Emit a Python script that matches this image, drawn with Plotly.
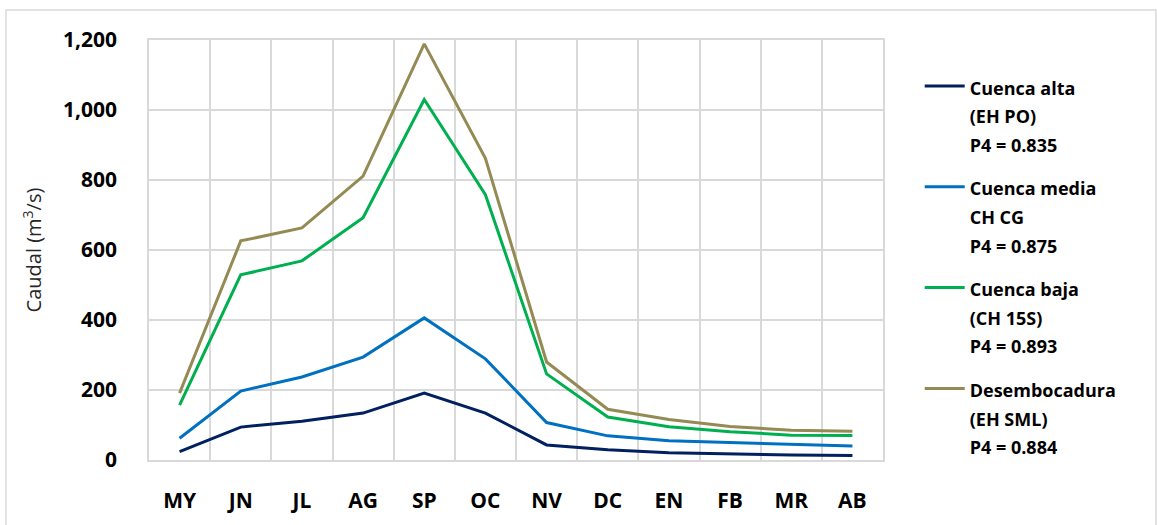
import plotly.graph_objects as go

# meses del año hidrológico (mayo - abril)
meses = ["MY", "JN", "JL", "AG", "SP", "OC", "NV", "DC", "EN", "FB", "MR", "AB"]

cuenca_alta = [24, 94, 111, 134, 191, 134, 43, 29, 21, 17, 14, 13]
cuenca_media = [62, 197, 237, 294, 406, 289, 107, 69, 55, 50, 43, 40]
cuenca_baja = [157, 529, 569, 692, 1030, 758, 246, 123, 95, 81, 71, 70]
desembocadura = [191, 626, 663, 811, 1189, 862, 280, 145, 116, 96, 85, 82]

nombres = [
    "Cuenca alta<br>(EH PO)<br>P4 = 0.835",
    "Cuenca media<br>CH CG<br>P4 = 0.875",
    "Cuenca baja<br>(CH 15S)<br>P4 = 0.893",
    "Desembocadura<br>(EH SML)<br>P4 = 0.884",
]
colores = ["#002060", "#0070c0", "#00b050", "#948a54"]
series = [cuenca_alta, cuenca_media, cuenca_baja, desembocadura]

x = list(range(len(meses)))

fig = go.Figure()
for i, (nombre, valores, color) in enumerate(zip(nombres, series, colores)):
    # span con fuente menor: el interlineado lo marca la fuente de la leyenda
    etiqueta = "<br>".join(
        f"<span style='font-size:18px'>{t}</span>" for t in nombre.split("<br>")
    )
    fig.add_trace(go.Scatter(
        x=x, y=valores, name=etiqueta, mode="lines",
        legendgroup=f"g{i}",
        line=dict(color=color, width=3),
    ))

grid = "#d9d9d9"
fig.update_layout(
    width=1157, height=525,
    margin=dict(l=149, r=274, t=40, b=65),
    paper_bgcolor="white", plot_bgcolor="white",
    font=dict(family="Open Sans", color="black"),
    showlegend=True,
    legend=dict(
        x=1.05, y=0.94, xanchor="left", yanchor="top",
        font=dict(size=22, family="Open Sans", weight="bold"),
        tracegroupgap=12, valign="top", itemwidth=40,
    ),
    xaxis=dict(
        range=[-0.5, 11.5],
        tickvals=x, ticktext=meses,
        tickfont=dict(size=21, weight="bold"),
        showgrid=False, zeroline=False,
        showline=True, linecolor=grid, linewidth=1.5, mirror=True,
        ticks="", ticklabelstandoff=21,
        minor=dict(tickvals=[i - 0.5 for i in range(13)], showgrid=True,
                   gridcolor=grid, gridwidth=1.5),
    ),
    yaxis=dict(
        range=[0, 1200], dtick=200, tickformat=",d",
        tickfont=dict(size=21, weight="bold"),
        showgrid=True, gridcolor=grid, gridwidth=1.5, zeroline=False,
        showline=True, linecolor=grid, linewidth=1.5, mirror=True,
        ticks="", ticklabelstandoff=26,
        title=dict(text="Caudal (m<sup>3</sup>/s)", font=dict(size=20, color="#262626"), standoff=16),
    ),
)

# marco exterior del gráfico
fig.add_shape(type="rect", xref="paper", yref="paper",
              x0=(6 - 149) / 734, x1=(1156 - 149) / 734,
              y0=-(540 - 460) / 420, y1=1 + (40 - 10) / 420,
              line=dict(color=grid, width=1.5))

fig.write_html("out.html", config={"displayModeBar": False},
               post_script="document.body.style.margin='0px';")
